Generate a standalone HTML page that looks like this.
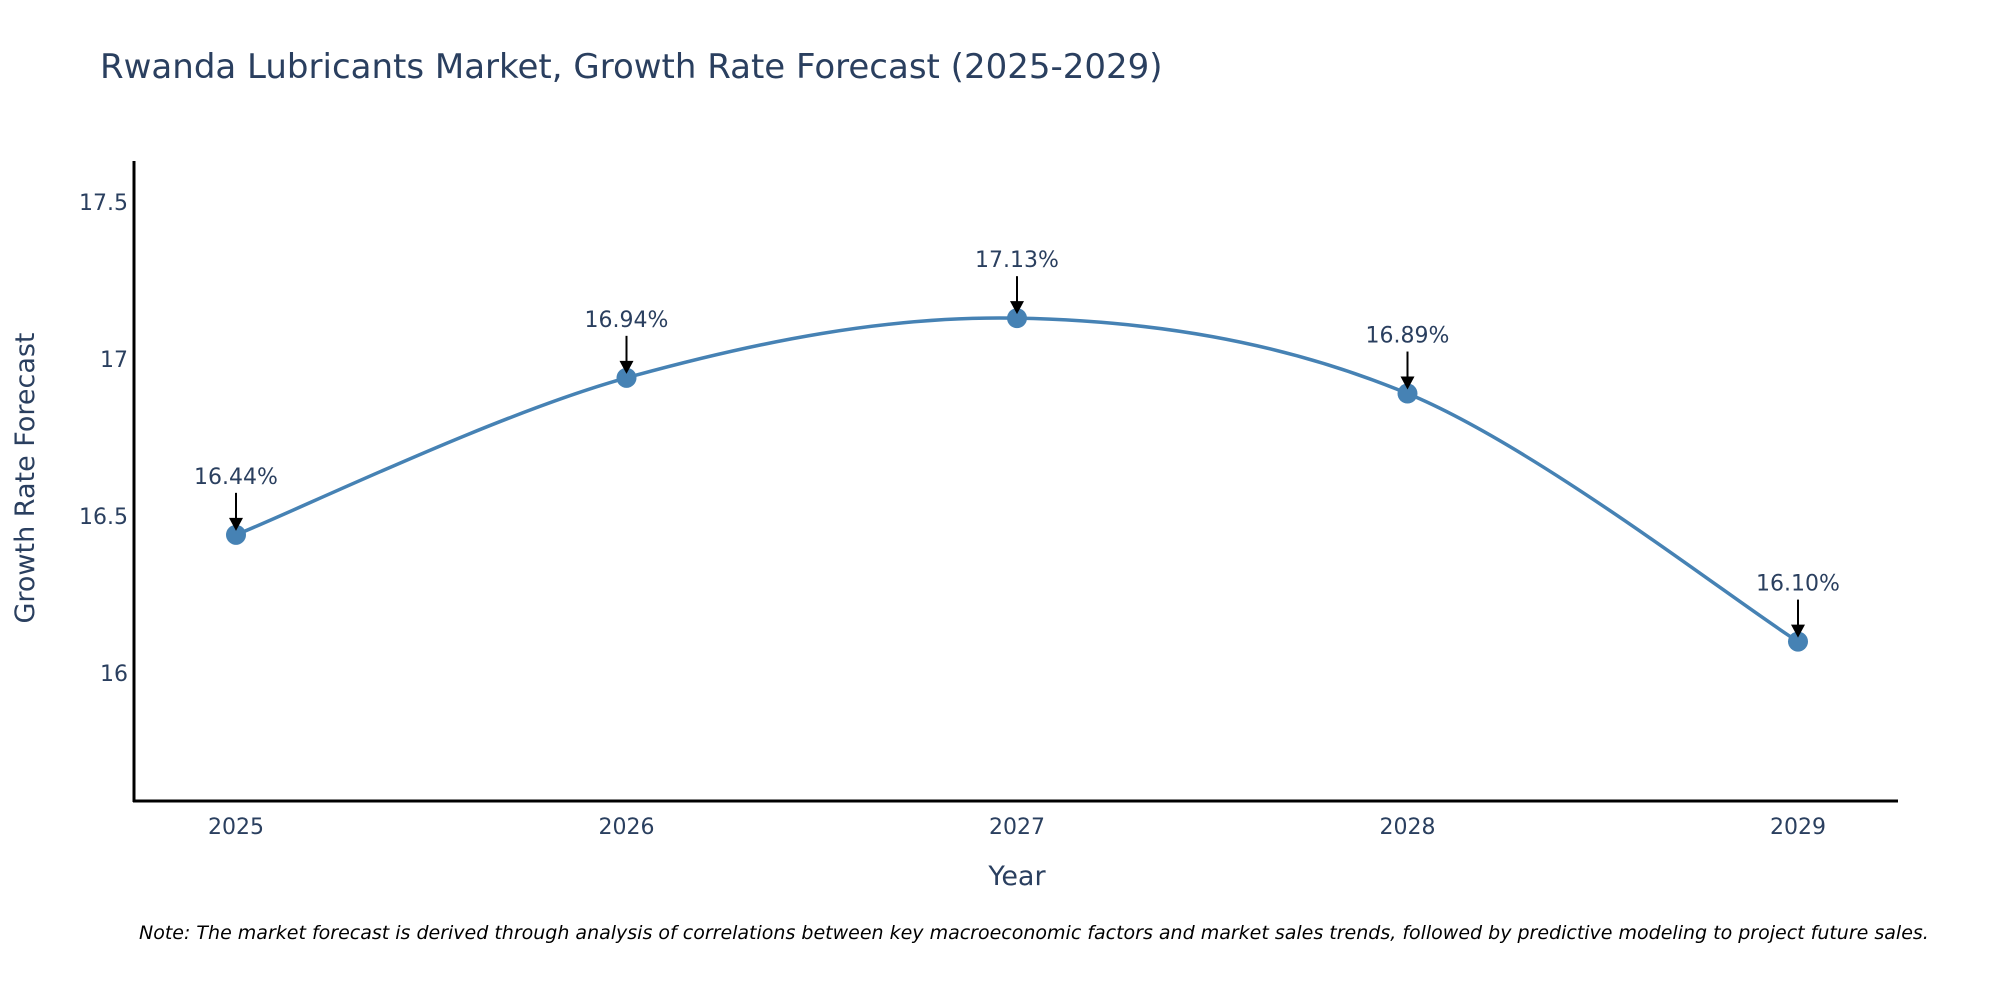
<!DOCTYPE html>
<html><head><meta charset="utf-8"><style>
body{margin:0;background:#fff;}
svg{display:block;font-family:"DejaVu Sans","Liberation Sans",sans-serif;}
</style></head><body>
<svg id="chart" width="2000" height="1000">
<text x="100" y="78" font-size="34" fill="#2a3f5f">Rwanda Lubricants Market, Growth Rate Forecast (2025-2029)</text>
<g id="yticks"></g>
<g id="xticks"></g>
<path id="line" fill="none" stroke="#4682b4" stroke-width="3.5"/>
<g id="marks"></g>
<line x1="134" y1="161" x2="134" y2="802" stroke="#000" stroke-width="3"/>
<line x1="133" y1="801" x2="1898" y2="801" stroke="#000" stroke-width="3"/>
<text x="1017" y="885" font-size="27" fill="#2a3f5f" text-anchor="middle">Year</text>
<text transform="translate(34,478) rotate(-90)" font-size="27" fill="#2a3f5f" text-anchor="middle">Growth Rate Forecast</text>
<text x="139" y="939" font-size="19" font-style="italic" fill="#000">Note: The market forecast is derived through analysis of correlations between key macroeconomic factors and market sales trends, followed by predictive modeling to project future sales.</text>
</svg>
<script>
const years=[2025,2026,2027,2028,2029];
const values=[16.44,16.94,17.13,16.89,16.10];
const yTicks=[16,16.5,17,17.5];
const yTickLabels=["16","16.5","17","17.5"];
const ns="http://www.w3.org/2000/svg";
const X=v=>236+(v-2025)*390.5;
const Y=v=>673-(v-16)*314;
function mk(t,a,p){const e=document.createElementNS(ns,t);for(const k in a)e.setAttribute(k,a[k]);p.appendChild(e);return e;}
const yt=document.getElementById('yticks');
yTicks.forEach((v,i)=>{const t=mk('text',{x:128,y:Y(v)+8,'font-size':22,fill:'#2a3f5f','text-anchor':'end'},yt);t.textContent=yTickLabels[i];

});
const xt=document.getElementById('xticks');
years.forEach(v=>{const t=mk('text',{x:X(v),y:834,'font-size':22,fill:'#2a3f5f','text-anchor':'middle'},xt);t.textContent=v;

});
const P=years.map((y,i)=>[X(y),Y(values[i])]);
let d=`M${P[0][0]},${P[0][1]}`;
for(let i=0;i<P.length-1;i++){const p0=P[Math.max(0,i-1)],p1=P[i],p2=P[i+1],p3=P[Math.min(P.length-1,i+2)];
const c1=[p1[0]+(p2[0]-p0[0])/6,p1[1]+(p2[1]-p0[1])/6],c2=[p2[0]-(p3[0]-p1[0])/6,p2[1]-(p3[1]-p1[1])/6];
d+=` C${c1[0]},${c1[1]} ${c2[0]},${c2[1]} ${p2[0]},${p2[1]}`;}
document.getElementById('line').setAttribute('d',d);
const m=document.getElementById('marks');
P.forEach((p,i)=>{
const c=mk('circle',{cx:p[0],cy:p[1],r:10,fill:'#4682b4'},m);


const l=mk('line',{x1:p[0],y1:p[1]-42,x2:p[0],y2:p[1]-14,stroke:'#000','stroke-width':2},m);


const h=mk('polygon',{points:`${p[0]-7},${p[1]-17} ${p[0]+7},${p[1]-17} ${p[0]},${p[1]-4}`,fill:'#000'},m);


const t=mk('text',{x:p[0],y:p[1]-51,'font-size':22,fill:'#2a3f5f','text-anchor':'middle'},m);
t.textContent=values[i].toFixed(2)+'%';

});
</script>
</body></html>
